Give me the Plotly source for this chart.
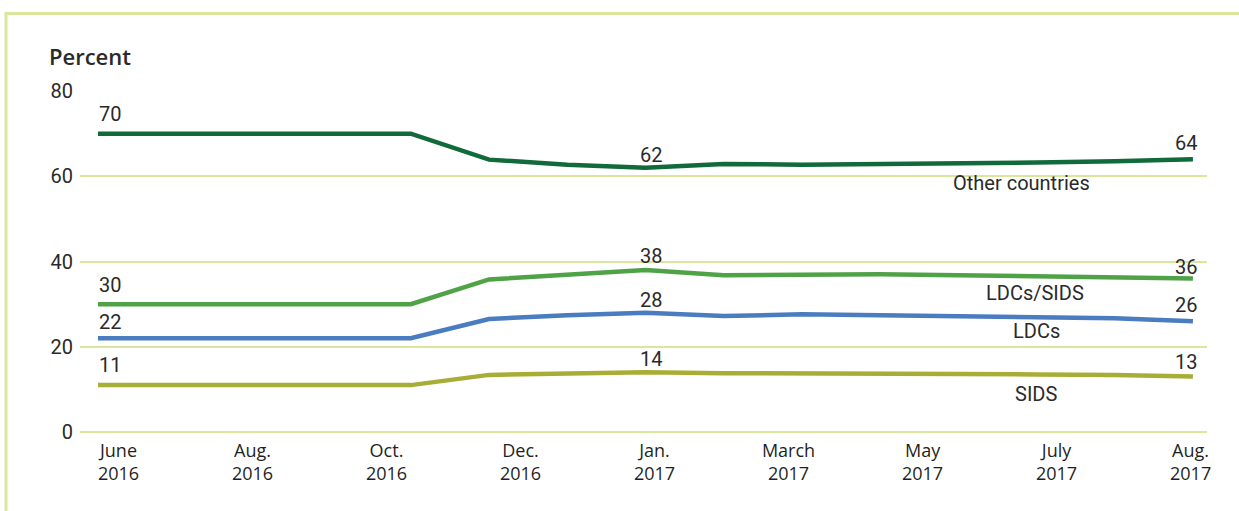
import numpy as np
import plotly.graph_objects as go

# Monthly observations, June 2016 – Aug. 2017
months = ["Jun 2016", "Jul 2016", "Aug 2016", "Sep 2016", "Oct 2016", "Nov 2016",
          "Dec 2016", "Jan 2017", "Feb 2017", "Mar 2017", "Apr 2017", "May 2017",
          "Jun 2017", "Jul 2017", "Aug 2017"]

other_countries = [70, 70, 70, 70, 70, 63.9, 62.7, 62, 62.9, 62.7, 62.8, 63.0, 63.2, 63.5, 64]
ldcs_sids = [30, 30, 30, 30, 30, 35.8, 37.0, 38, 36.8, 37.0, 37.0, 36.8, 36.6, 36.3, 36]
ldcs = [22, 22, 22, 22, 22, 26.5, 27.4, 28, 27.2, 27.6, 27.4, 27.1, 26.9, 26.7, 26]
sids = [11, 11, 11, 11, 11, 13.4, 13.8, 14, 13.8, 13.8, 13.8, 13.6, 13.5, 13.4, 13]

tick_labels = ["June<br>2016", "Aug.<br>2016", "Oct.<br>2016", "Dec.<br>2016",
               "Jan.<br>2017", "March<br>2017", "May<br>2017", "July<br>2017",
               "Aug.<br>2017"]
y_ticks = [0, 20, 40, 60, 80]

# indices of the points whose values are printed
labelled_points = [0, 7, 14]

series = [
    ("Other countries", other_countries, "#116a3a"),
    ("LDCs/SIDS", ldcs_sids, "#50a247"),
    ("LDCs", ldcs, "#4a7cc0"),
    ("SIDS", sids, "#a8ad36"),
]

# ---- page geometry (pixels) ----
W_PX, H_PX = 1239, 511
L, R, T, B = 80, 32, 91, 79
PW, PH = W_PX - L - R, H_PX - T - B

def paper_x(px):
    return (px - L) / PW

def paper_y(py):
    return (H_PX - B - py) / PH

x = np.arange(len(months))
GRID = "#d9e69c"
TEXT = "#2a2a2a"
NUM_FONT = dict(family="Roboto", size=20, color=TEXT)

fig = go.Figure()
for name, vals, col in series:
    fig.add_trace(go.Scatter(x=x, y=vals, mode="lines", name=name,
                             line=dict(color=col, width=4.5),
                             hoverinfo="skip", showlegend=False))

annotations = []
# value labels: first point left-aligned, middle centred, last right-aligned
first_shift = {"Other countries": 6, "LDCs/SIDS": 5, "LDCs": 2, "SIDS": 6}
mid_shift = {"Other countries": -1, "LDCs/SIDS": 0, "LDCs": -1, "SIDS": -1}
last_shift = {"Other countries": 2, "LDCs/SIDS": -2, "LDCs": 2, "SIDS": 1}
for name, vals, col in series:
    i0, im, i1 = labelled_points
    annotations.append(dict(x=i0, y=vals[i0], text=f"{vals[i0]:g}", xanchor="left",
                            yanchor="bottom", xshift=-1, yshift=first_shift[name],
                            showarrow=False, font=NUM_FONT))
    annotations.append(dict(x=im, y=vals[im], text=f"{vals[im]:g}", xanchor="center",
                            yanchor="bottom", xshift=6, yshift=mid_shift[name],
                            showarrow=False, font=NUM_FONT))
    annotations.append(dict(x=i1, y=vals[i1], text=f"{vals[i1]:g}", xanchor="right",
                            yanchor="bottom", xshift=6, yshift=last_shift[name],
                            showarrow=False, font=NUM_FONT))

# series names under the right-hand end of each line
name_pos = {"Other countries": (1021, 183), "LDCs/SIDS": (1035, 293),
            "LDCs": (1036, 331), "SIDS": (1036, 394)}
for name, (px, py) in name_pos.items():
    annotations.append(dict(x=paper_x(px), y=paper_y(py), xref="paper", yref="paper",
                            text=name, xanchor="center", yanchor="middle",
                            showarrow=False, font=NUM_FONT))

# axis title
annotations.append(dict(x=paper_x(47), y=paper_y(56), xref="paper", yref="paper",
                        text="Percent", xanchor="left", yanchor="middle", showarrow=False,
                        font=dict(family="Open Sans", size=22, color=TEXT, weight=600)))

# frame: top and left rules
shapes = [
    dict(type="line", xref="paper", yref="paper", x0=paper_x(6), x1=paper_x(W_PX),
         y0=paper_y(13.5), y1=paper_y(13.5), line=dict(color=GRID, width=3)),
    dict(type="line", xref="paper", yref="paper", x0=paper_x(6), x1=paper_x(6),
         y0=paper_y(12), y1=paper_y(H_PX), line=dict(color=GRID, width=3)),
]

fig.update_layout(
    width=W_PX, height=H_PX,
    margin=dict(l=L, r=R, t=T, b=B, pad=0),
    paper_bgcolor="white", plot_bgcolor="white",
    annotations=annotations, shapes=shapes,
    xaxis=dict(range=[-0.23, 14.18], tickmode="array",
               tickvals=np.linspace(0.262, 13.97, len(tick_labels)),
               ticktext=tick_labels, showgrid=False, zeroline=False, showline=False,
               ticks="", ticklabelstandoff=6,
               tickfont=dict(family="Open Sans", size=18, color="#1f1f1f")),
    yaxis=dict(range=[0, 80], tickmode="array", tickvals=y_ticks,
               showgrid=True, gridcolor=GRID, gridwidth=2,
               zeroline=True, zerolinecolor=GRID, zerolinewidth=2,
               showline=False, ticks="", ticklabelstandoff=6,
               tickfont=dict(family="Roboto", size=20, color=TEXT)),
)

fig.write_html("out.html")
